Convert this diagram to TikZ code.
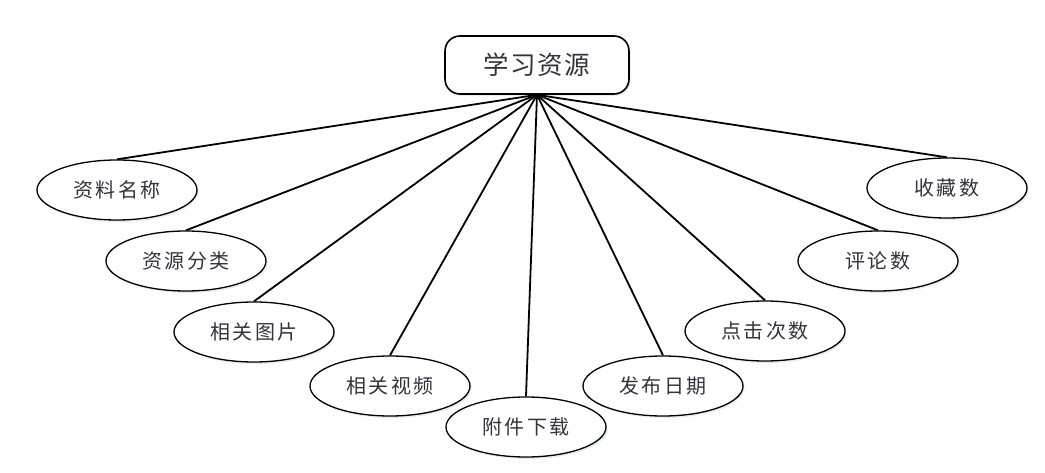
\documentclass[tikz,border=0pt]{standalone}
\usepackage{fontspec}
\usepackage{xcolor}
\usepackage{tikz}
\usetikzlibrary{shapes.geometric,shadows}
\newfontfamily\cjkattr[LetterSpace=12]{Noto Sans CJK SC}
\newfontfamily\cjkroot[LetterSpace=6]{Noto Sans CJK SC}
\definecolor{inkgray}{HTML}{33333F}
\definecolor{glowblue}{HTML}{E2EDF9}

\begin{document}
\begin{tikzpicture}[
    x=1pt, y=-1pt,
    entity/.style={draw=black, line width=1.6pt, rounded corners=15pt,
                   fill=white, text=inkgray, minimum width=184pt,
                   minimum height=58pt, inner sep=0pt,
                   font=\cjkroot\fontsize{25.5}{25.5}\selectfont,
                   drop shadow={shadow xshift=1.5pt, shadow yshift=-2pt,
                                fill=glowblue, opacity=1}},
    attr/.style={ellipse, draw=black, line width=1.3pt, fill=white,
                 text=inkgray, minimum width=160pt, minimum height=60pt,
                 inner sep=0pt, font=\cjkattr\fontsize{20}{20}\selectfont,
                 drop shadow={shadow xshift=1.5pt, shadow yshift=-2pt,
                              fill=glowblue, opacity=1}},
    link/.style={draw=black, line width=1.8pt}
]
    \useasboundingbox (0,0) rectangle (1045,473);

    \node[entity] (root) at (537,65) {学习资源};

    \node[attr] (resname)    at (117,190) {资料名称};
    \node[attr] (category)   at (186,261) {资源分类};
    \node[attr] (images)     at (254,332) {相关图片};
    \node[attr] (videos)     at (390,386) {相关视频};
    \node[attr] (attachment) at (526,427) {附件下载};
    \node[attr] (pubdate)    at (663,386) {发布日期};
    \node[attr] (clicks)     at (765,331) {点击次数};
    \node[attr] (comments)   at (878,261) {评论数};
    \node[attr] (favorites)  at (947,188) {收藏数};

    \draw[link] (root.south) -- (resname.north);
    \draw[link] (root.south) -- (category.north);
    \draw[link] (root.south) -- (images.north);
    \draw[link] (root.south) -- (videos.north);
    \draw[link] (root.south) -- (attachment.north);
    \draw[link] (root.south) -- (pubdate.north);
    \draw[link] (root.south) -- (clicks.north);
    \draw[link] (root.south) -- (comments.north);
    \draw[link] (root.south) -- (favorites.north);
\end{tikzpicture}
\end{document}
